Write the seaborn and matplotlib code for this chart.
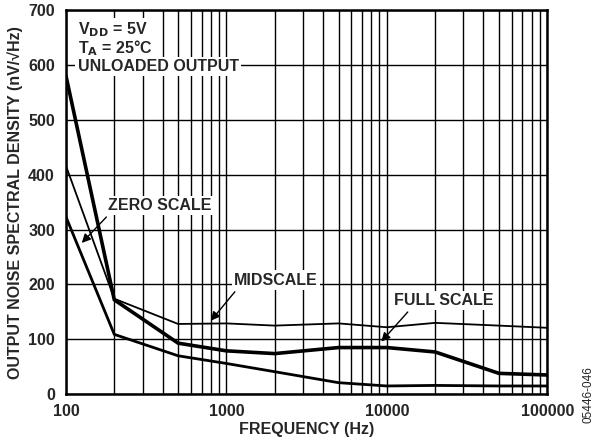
import numpy as np
import pandas as pd
import matplotlib
matplotlib.use("Agg")
import matplotlib.pyplot as plt
import seaborn as sns
from matplotlib.ticker import FixedLocator, FixedFormatter, LogLocator, NullFormatter

# data
freq = [100, 200, 500, 1000, 2000, 5000, 10000, 20000, 50000, 100000]
full_scale = [580, 172, 93, 79, 74, 85, 85, 77, 38, 35]
midscale = [416, 174, 128, 129, 125, 129, 122, 130, 125, 121]
zero_scale = [323, 109, 70, 56, 41, 21, 15, 16, 15, 15]

df = pd.DataFrame({"freq": freq, "FULL SCALE": full_scale,
                   "MIDSCALE": midscale, "ZERO SCALE": zero_scale})

sns.set_style("white")
plt.rcParams["font.family"] = ["Liberation Sans", "DejaVu Sans"]
plt.rcParams["font.weight"] = "bold"

fig, ax = plt.subplots(figsize=(6, 4.38), dpi=100)
fig.subplots_adjust(left=0.11, right=0.912, top=0.977, bottom=0.10)

ax.set_xscale("log")
ax.set_xlim(100, 100000)
ax.set_ylim(0, 700)

ax.xaxis.set_major_locator(FixedLocator([100, 1000, 10000, 100000]))
ax.xaxis.set_major_formatter(FixedFormatter(["100", "1000", "10000", "100000"]))
ax.xaxis.set_minor_locator(LogLocator(base=10, subs=np.arange(2, 10)))
ax.xaxis.set_minor_formatter(NullFormatter())
ax.set_yticks(range(0, 701, 100))

ax.grid(True, which="both", axis="x", color="black", lw=1.0, zorder=0)
ax.grid(True, which="major", axis="y", color="black", lw=1.0, zorder=0)
ax.set_axisbelow(True)
ax.tick_params(which="both", length=0, labelsize=11.5)
ax.tick_params(axis="x", pad=7)
ax.tick_params(axis="y", pad=8)
for lab in ax.get_xticklabels() + ax.get_yticklabels():
    lab.set_fontweight("bold")
for s in ax.spines.values():
    s.set_color("black")
    s.set_linewidth(1.8)

sns.lineplot(data=df, x="freq", y="FULL SCALE", ax=ax, color="black", lw=2.6)
sns.lineplot(data=df, x="freq", y="MIDSCALE", ax=ax, color="black", lw=1.3)
sns.lineplot(data=df, x="freq", y="ZERO SCALE", ax=ax, color="black", lw=2.0)

ax.set_xlabel("FREQUENCY (Hz)", fontsize=11.5, fontweight="bold", labelpad=2)
ax.set_ylabel("OUTPUT NOISE SPECTRAL DENSITY (nV/\u221aHz)", fontsize=11.5,
              fontweight="bold", labelpad=4)

box = dict(facecolor="white", edgecolor="none", pad=1.5)
tk = dict(fontsize=11.5, fontweight="bold", zorder=5)
ax.text(118, 665, "V$_{\\mathbf{DD}}$ = 5V", va="center", ha="left", bbox=box, **tk)
ax.text(118, 630, "T$_{\\mathbf{A}}$ = 25°C", va="center", ha="left", bbox=box, **tk)
ax.text(118, 597, "UNLOADED OUTPUT", va="center", ha="left", bbox=box, **tk)

arrow = dict(arrowstyle="-|>", color="black", lw=1.0, mutation_scale=13)
ax.annotate("ZERO SCALE", xy=(122, 272), xytext=(385, 344), ha="center",
            va="center", bbox=box, arrowprops=dict(arrow, relpos=(0.02, 0)), **tk)
ax.annotate("MIDSCALE", xy=(780, 130), xytext=(2040, 208), ha="center",
            va="center", bbox=box, arrowprops=dict(arrow, relpos=(0.05, 0)), **tk)
ax.annotate("FULL SCALE", xy=(9000, 92), xytext=(22500, 171), ha="center",
            va="center", bbox=box, arrowprops=dict(arrow, relpos=(0.18, 0)), **tk)

fig.text(0.98, 0.10, "05446-046", rotation=90, fontsize=8.5, fontweight="normal",
         ha="center", va="center")

fig.savefig("out.png", dpi=100)
